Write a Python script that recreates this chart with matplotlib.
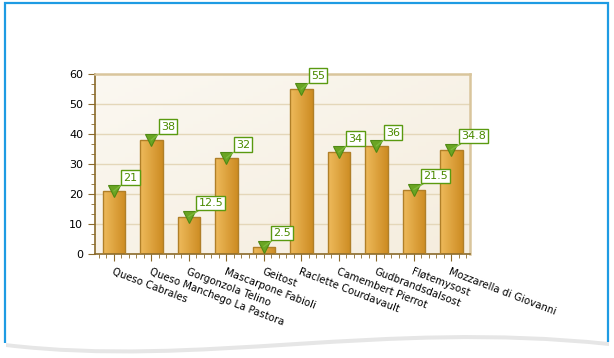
import numpy as np
import matplotlib
matplotlib.use("Agg")
import matplotlib.pyplot as plt
from matplotlib.path import Path
from matplotlib.patches import PathPatch
from matplotlib.ticker import AutoMinorLocator

cheeses = ["Queso Cabrales", "Queso Manchego La Pastora", "Gorgonzola Telino",
           "Mascarpone Fabioli", "Geitost", "Raclette Courdavault",
           "Camembert Pierrot", "Gudbrandsdalsost", "Fløtemysost",
           "Mozzarella di Giovanni"]
values = [21, 38, 12.5, 32, 2.5, 55, 34, 36, 21.5, 34.8]
value_labels = ["21", "38", "12.5", "32", "2.5", "55", "34", "36", "21.5", "34.8"]
y_ticks = [0, 10, 20, 30, 40, 50, 60]

W, H = 614, 358


def px(x, y):
    # pixel coords (y down) -> figure fraction
    return x / W, 1 - y / H


def main():
    fig = plt.figure(figsize=(W / 100, H / 100), dpi=100)
    fig.patch.set_facecolor("white")

    # page-like frame with wavy bottom
    pts = [px(5, 3), px(608, 3), px(608, 342),
           px(380, 318), px(200, 366), px(5, 343), px(5, 3)]
    codes = [Path.MOVETO, Path.LINETO, Path.LINETO,
             Path.CURVE4, Path.CURVE4, Path.CURVE4, Path.CLOSEPOLY]
    shadow = [(x + 1 / W, y - 4 / H) for x, y in pts]
    fig.patches.append(PathPatch(Path(shadow, codes), facecolor="#e6e6e6",
                                 edgecolor="none", transform=fig.transFigure, zorder=-3))
    fig.patches.append(PathPatch(Path(pts, codes), facecolor="white",
                                 edgecolor="none", transform=fig.transFigure, zorder=-2))
    side = Path([px(5, 343), px(5, 3), px(608, 3), px(608, 342)])
    fig.patches.append(PathPatch(side, facecolor="none", edgecolor="#1e9be3",
                                 lw=1.6, transform=fig.transFigure, zorder=-1))

    left, bottom = px(95, 254)
    right, top = px(470, 74)
    ax = fig.add_axes([left, bottom, right - left, top - bottom])
    ax.set_xlim(-0.5, 9.5)
    ax.set_ylim(0, 60)

    # plot background gradient
    gx, gy = np.meshgrid(np.linspace(0, 1, 50), np.linspace(0, 1, 50))
    t = (gx + (1 - gy)) / 2
    c1 = np.array([251, 248, 241]) / 255
    c2 = np.array([245, 237, 222]) / 255
    bg = c1[None, None, :] * (1 - t[..., None]) + c2[None, None, :] * t[..., None]
    ax.imshow(bg, extent=[-0.5, 9.5, 60, 0], aspect="auto", zorder=0)
    ax.set_ylim(0, 60)

    for yv in y_ticks[1:-1]:
        ax.axhline(yv, color="#e4d7b9", lw=1, zorder=1)

    # bars with horizontal gradient
    gl = np.array([238, 186, 92]) / 255
    gr = np.array([205, 140, 34]) / 255
    s = np.linspace(0, 1, 64)
    grad = gl[None, :] * (1 - s[:, None]) + gr[None, :] * s[:, None]
    grad = grad[None, :, :]
    x = np.arange(len(cheeses))
    bars = ax.bar(x, values, width=0.6, color="none", edgecolor="#b07f28",
                  lw=1, zorder=3)
    for b in bars:
        im = ax.imshow(grad, extent=[b.get_x(), b.get_x() + b.get_width(), 0, b.get_height()],
                       aspect="auto", zorder=2)
        im.set_clip_path(b)
    ax.set_xlim(-0.5, 9.5)
    ax.set_ylim(0, 60)

    ax.plot(x, values, "v", ms=8.5, color="#6aa423", mec="#4f8a14", mew=0.8,
            ls="none", zorder=4)
    for xi, v, lab in zip(x, values, value_labels):
        ax.annotate(lab, (xi, v), xytext=(7, 6), textcoords="offset points",
                    ha="left", va="bottom", fontsize=8, color="#4a8a00",
                    bbox=dict(boxstyle="square,pad=0.2", fc="white", ec="#5a9a10", lw=1),
                    arrowprops=dict(arrowstyle="-", color="#7ab83a", lw=1,
                                    shrinkA=0, shrinkB=0),
                    zorder=5)

    for sp in ["left", "bottom"]:
        ax.spines[sp].set_color("#8a6a2a")
        ax.spines[sp].set_linewidth(1.2)
    for sp in ["top", "right"]:
        ax.spines[sp].set_color("#d9c59c")
        ax.spines[sp].set_linewidth(1.8)

    ax.set_yticks(y_ticks)
    ax.yaxis.set_minor_locator(AutoMinorLocator(3))
    ax.set_xticks(x)
    ax.xaxis.set_minor_locator(AutoMinorLocator(5))
    ax.tick_params(axis="both", which="major", length=5, color="#8a6a2a",
                   labelsize=8, labelcolor="black")
    ax.tick_params(axis="both", which="minor", length=3, color="#8a6a2a")
    ax.tick_params(axis="x", which="major", pad=4)
    ax.set_xticklabels(cheeses, rotation=-21, ha="left", va="top",
                       rotation_mode="anchor", fontsize=7.3)

    fig.savefig("out.png", dpi=100, facecolor="white")


if __name__ == "__main__":
    main()
